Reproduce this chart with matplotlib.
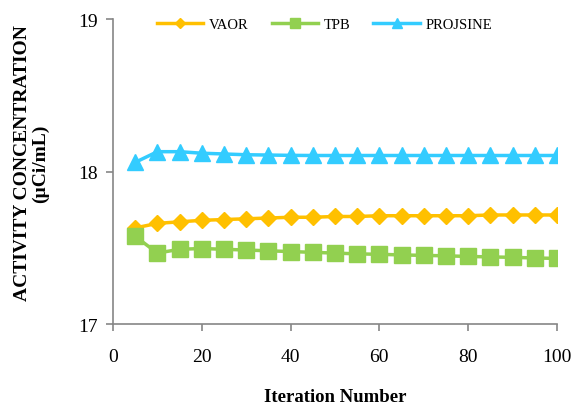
import matplotlib.pyplot as plt

# data
iterations = [5, 10, 15, 20, 25, 30, 35, 40, 45, 50, 55, 60, 65, 70, 75, 80, 85, 90, 95, 100]
vaor = [17.63, 17.66, 17.67, 17.68, 17.685, 17.69, 17.695, 17.70, 17.70, 17.705,
        17.705, 17.71, 17.71, 17.71, 17.71, 17.71, 17.715, 17.715, 17.715, 17.715]
tpb = [17.575, 17.465, 17.49, 17.495, 17.49, 17.485, 17.48, 17.475, 17.47, 17.465,
       17.46, 17.457, 17.453, 17.45, 17.447, 17.443, 17.44, 17.437, 17.433, 17.43]
projsine = [18.06, 18.13, 18.13, 18.12, 18.115, 18.11, 18.108, 18.106, 18.105, 18.105,
            18.105, 18.105, 18.105, 18.105, 18.105, 18.105, 18.105, 18.105, 18.105, 18.105]

plt.rcParams['font.family'] = ['Liberation Serif', 'DejaVu Serif']

fig = plt.figure(figsize=(5.78, 4.06), dpi=100)
ax = fig.add_axes([0.1955, 0.1995, 0.768, 0.7512])

ax.plot(iterations, vaor, color='#FFC000', lw=2.5, marker='D', ms=8, label='VAOR')
ax.plot(iterations, tpb, color='#92D050', lw=2.5, marker='s', ms=11, label='TPB')
ax.plot(iterations, projsine, color='#33CCFF', lw=2.5, marker='^', ms=12, label='PROJSINE')

ax.set_xlim(0, 100)
ax.set_ylim(17, 19)
ax.set_xticks([0, 20, 40, 60, 80, 100])
ax.set_yticks([17, 18, 19])

for s in ['top', 'right']:
    ax.spines[s].set_visible(False)
for s in ['left', 'bottom']:
    ax.spines[s].set_color('#868686')
    ax.spines[s].set_linewidth(1.2)
ax.tick_params(colors='#868686', labelcolor='black', labelsize=14, length=5, width=1.2)
ax.tick_params(axis='x', pad=12)
ax.tick_params(axis='y', pad=6)

ax.set_xlabel('Iteration Number', fontsize=13.5, fontweight='bold', labelpad=17)
ax.set_ylabel('ACTIVITY CONCENTRATION\n(µCi/mL)', fontsize=14, fontweight='bold', linespacing=1.0)
ax.yaxis.set_label_coords(-0.145, 0.53)

ax.legend(loc='center', bbox_to_anchor=(0.476, 0.982), ncol=3, frameon=False,
          fontsize=10.5, handlelength=3.2, columnspacing=1.6, handletextpad=0.35,
          markerscale=0.6)

fig.savefig('out.png', dpi=100)
